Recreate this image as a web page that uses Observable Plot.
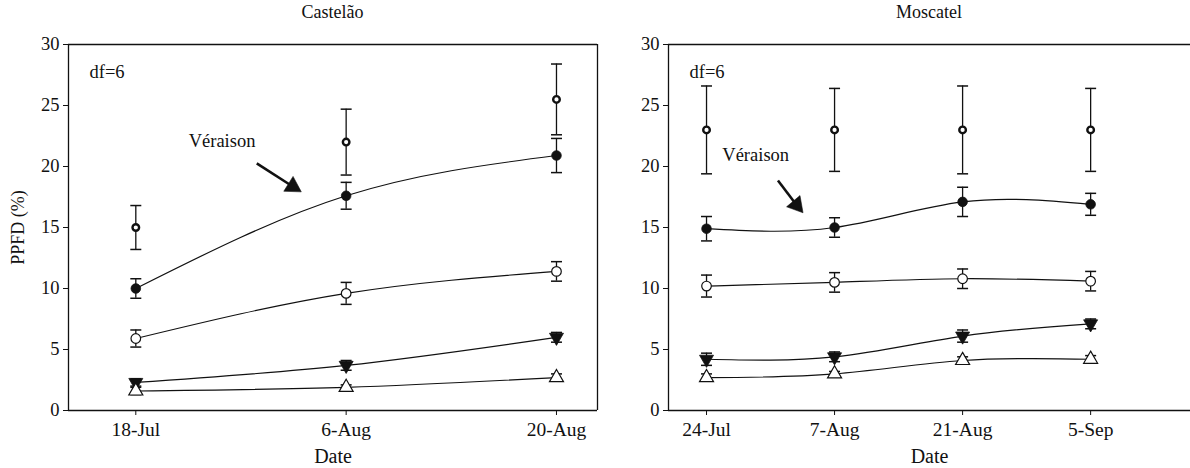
<!DOCTYPE html>
<html><head><meta charset="utf-8">
<script src="https://cdn.jsdelivr.net/npm/d3@7"></script>
<script src="https://cdn.jsdelivr.net/npm/@observablehq/plot@0.6"></script>
<style>
body{margin:0;background:#fff;font-family:"Liberation Serif",serif;}
#wrap{display:flex;width:1190px;height:468px;overflow:hidden}
.panel{position:relative}
.title{height:24px;line-height:24px;font-size:18px;text-align:center;color:#111;box-sizing:border-box}
svg{display:block}
</style></head><body><div id="wrap"></div>
<script>
// ---- data ----
const seriesNames = ["A", "B", "C", "D", "E"];

const castDates = ["18-Jul", "6-Aug", "20-Aug"];
const castA = [15.0, 22.0, 25.5]; const castAErr = [1.8, 2.7, 2.9];
const castB = [10.0, 17.6, 20.9]; const castBErr = [0.8, 1.1, 1.4];
const castC = [5.9, 9.6, 11.4];   const castCErr = [0.7, 0.9, 0.8];
const castD = [2.3, 3.7, 6.0];    const castDErr = [0.3, 0.4, 0.4];
const castE = [1.6, 1.9, 2.7];    const castEErr = [0.3, 0.2, 0.3];

const mosDates = ["24-Jul", "7-Aug", "21-Aug", "5-Sep"];
const mosA = [23.0, 23.0, 23.0, 23.0]; const mosAErr = [3.6, 3.4, 3.6, 3.4];
const mosB = [14.9, 15.0, 17.1, 16.9]; const mosBErr = [1.0, 0.8, 1.2, 0.9];
const mosC = [10.2, 10.5, 10.8, 10.6]; const mosCErr = [0.9, 0.8, 0.8, 0.8];
const mosD = [4.2, 4.4, 6.1, 7.1];     const mosDErr = [0.5, 0.4, 0.5, 0.4];
const mosE = [2.7, 3.0, 4.1, 4.2];     const mosEErr = [0.3, 0.2, 0.3, 0.3];

const yTicks = [0, 5, 10, 15, 20, 25, 30];

// annotations (data units: x = date index, y = PPFD %)
const castNote = {tx: 0.41, ty: 22.05, x1: 0.575, y1: 20.25, x2: 0.746, y2: 18.36, angle: 122};
const mosNote  = {tx: 0.384, ty: 20.9, x1: 0.558, y1: 18.85, x2: 0.703, y2: 16.84, angle: 140};

// ---- build ----
function rowsFor(dates, vals, errs) {
  const rows = [];
  seriesNames.forEach((s, k) => {
    dates.forEach((d, i) => {
      rows.push({series: s, i, date: d, value: vals[k][i], lo: vals[k][i] - errs[k][i], hi: vals[k][i] + errs[k][i]});
    });
  });
  return rows;
}

const capSymbol = {
  draw(ctx, size) { const r = Math.sqrt(size / Math.PI); ctx.moveTo(-r, 0); ctx.lineTo(r, 0); }
};

function makePanel({title, dates, rows, width, marginRight, xDomain, note, yLabel, rightLine}) {
  const ink = "#111";
  const by = s => rows.filter(d => d.series === s);
  const marks = [
    Plot.ruleY([0, 30], {stroke: ink, strokeWidth: 1.3}),
    Plot.ruleX([xDomain[0]], {stroke: ink, strokeWidth: 1.3}),
    rightLine ? Plot.ruleX([xDomain[1]], {stroke: ink, strokeWidth: 1.3}) : null,
    Plot.axisY({ticks: yTicks, tickSize: 5, tickPadding: 4, label: null, fontSize: 18.5}),
    Plot.axisX({ticks: d3.range(dates.length), tickFormat: i => dates[i], tickSize: 5, tickPadding: 7, label: null, fontSize: 19.5}),
    Plot.ruleX(rows, {x: "i", y1: "lo", y2: "hi", stroke: ink, strokeWidth: 1.3}),
    Plot.dot(rows, {x: "i", y: "hi", symbol: capSymbol, r: 5.5, stroke: ink, strokeWidth: 1.5}),
    Plot.dot(rows, {x: "i", y: "lo", symbol: capSymbol, r: 5.5, stroke: ink, strokeWidth: 1.5}),
    Plot.line(rows.filter(d => d.series !== "A"), {x: "i", y: "value", z: "series", curve: "natural", stroke: ink, strokeWidth: 1.2}),
    Plot.dot(by("A"), {x: "i", y: "value", r: 3.3, fill: "white", stroke: ink, strokeWidth: 2.4}),
    Plot.dot(by("B"), {x: "i", y: "value", r: 4.8, fill: ink, stroke: ink, strokeWidth: 0.8}),
    Plot.dot(by("C"), {x: "i", y: "value", r: 4.8, fill: "white", stroke: ink, strokeWidth: 1.2}),
    Plot.dot(by("D"), {x: "i", y: "value", symbol: "triangle", r: 5.2, rotate: 180, fill: ink, stroke: ink, strokeWidth: 0.8}),
    Plot.dot(by("E"), {x: "i", y: "value", symbol: "triangle", r: 5.2, fill: "white", stroke: ink, strokeWidth: 1.2}),
    Plot.text(["df=6"], {frameAnchor: "top-left", dx: 21, dy: 20, textAnchor: "start", fontSize: 18.5, fill: ink}),
    Plot.text([note], {x: "tx", y: "ty", text: () => "Véraison", fontSize: 18.5, fill: ink}),
    Plot.link([note], {x1: "x1", y1: "y1", x2: "x2", y2: "y2", stroke: ink, strokeWidth: 2.6}),
    Plot.dot([note], {x: "x2", y: "y2", symbol: "triangle", r: 6.5, rotate: "angle", fill: ink, stroke: ink, strokeWidth: 0.5}),
    Plot.text(["Date"], {frameAnchor: "bottom", dy: 52, fontSize: 20, fill: ink}),
    yLabel ? Plot.text([yLabel], {frameAnchor: "left", dx: -50, rotate: -90, textAnchor: "middle", fontSize: 18, fill: ink}) : null
  ].filter(Boolean);

  const chart = Plot.plot({
    width, height: 444,
    marginLeft: 68, marginRight, marginTop: 20, marginBottom: 58,
    style: {fontFamily: "'Liberation Serif', serif", fontSize: "18px", color: ink, background: "white", overflow: "visible"},
    x: {type: "linear", domain: xDomain},
    y: {domain: [0, 30]},
    marks
  });
  const div = document.createElement("div");
  div.className = "panel";
  div.style.width = width + "px";
  const t = document.createElement("div");
  t.className = "title";
  t.style.paddingLeft = "68px";
  t.style.paddingRight = marginRight + "px";
  t.textContent = title;
  div.appendChild(t);
  div.appendChild(chart);
  return div;
}

const wrap = document.getElementById("wrap");
wrap.appendChild(makePanel({
  title: "Castelão", dates: castDates,
  rows: rowsFor(castDates, [castA, castB, castC, castD, castE], [castAErr, castBErr, castCErr, castDErr, castEErr]),
  width: 600, marginRight: 3, xDomain: [-0.32, 2.195], note: castNote, yLabel: "PPFD (%)", rightLine: true
}));
wrap.appendChild(makePanel({
  title: "Moscatel", dates: mosDates,
  rows: rowsFor(mosDates, [mosA, mosB, mosC, mosD, mosE], [mosAErr, mosBErr, mosCErr, mosDErr, mosEErr]),
  width: 590, marginRight: 0, xDomain: [-0.297, 3.78], note: mosNote, yLabel: null, rightLine: false
}));
</script>
</body></html>
